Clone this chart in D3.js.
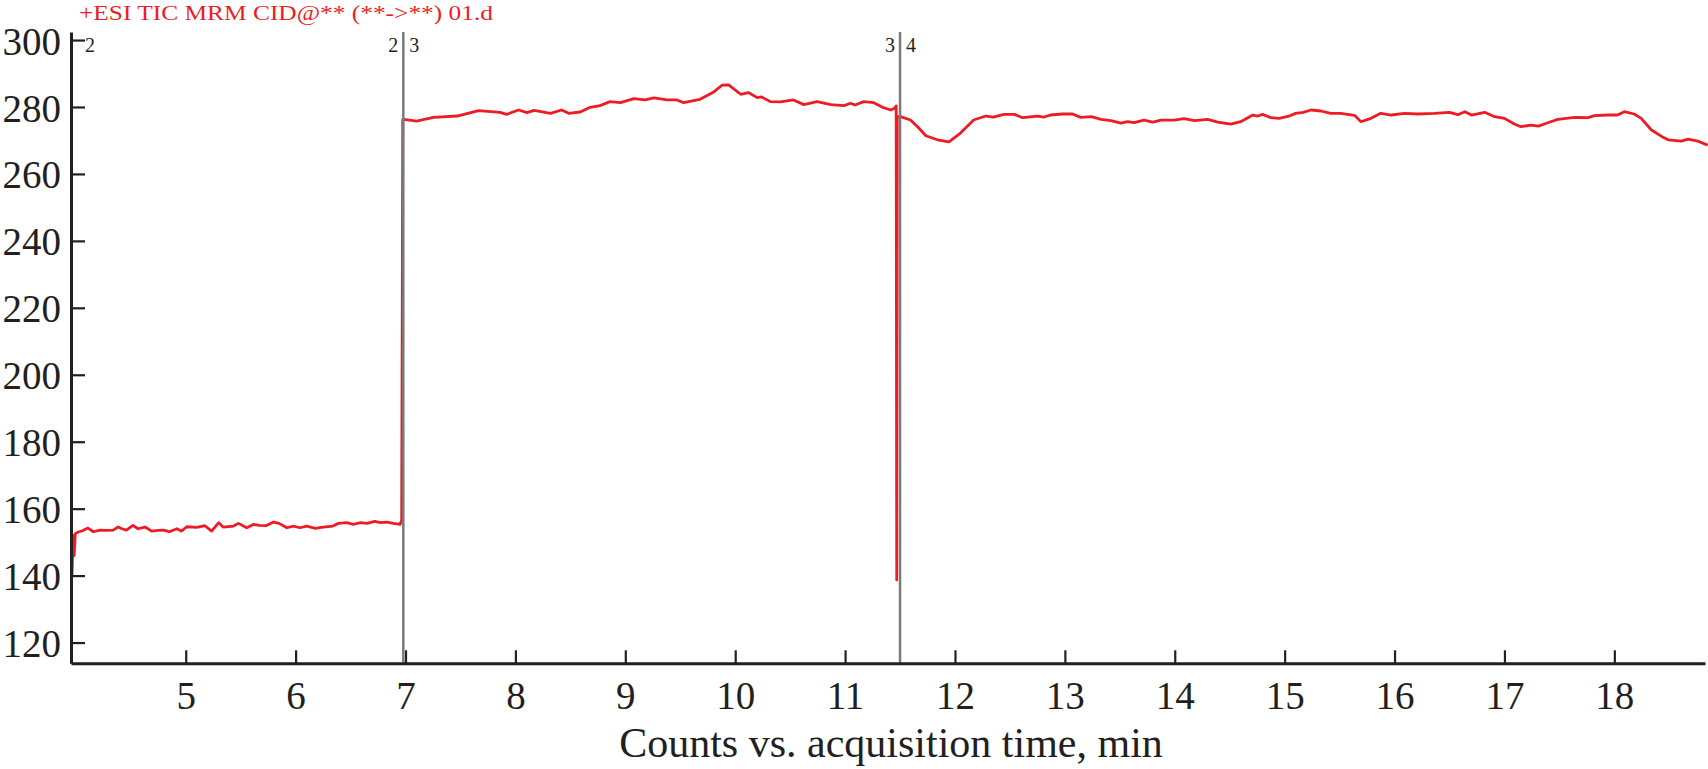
<!DOCTYPE html>
<html>
<head>
<meta charset="utf-8">
<script src="https://cdn.jsdelivr.net/npm/d3@7"></script>
<style>
  html, body { margin: 0; padding: 0; background: #fff; }
  svg { display: block; }
  text { font-family: "Liberation Serif", "DejaVu Serif", serif; }
</style>
</head>
<body>
<svg id="chart" width="1708" height="769"></svg>
<script>
// ---- data ----
const title = "+ESI TIC MRM CID@** (**->**) 01.d";
const xLabel = "Counts vs. acquisition time, min";
const xTicks = [5, 6, 7, 8, 9, 10, 11, 12, 13, 14, 15, 16, 17, 18];
const yTicks = [120, 140, 160, 180, 200, 220, 240, 260, 280, 300];
const xDomain = [3.956, 18.825];
const yDomain = [113.8, 302.4];
const segmentBounds = [6.98, 11.5];
const segmentLabelsLeft = ["2", "3"];
const segmentLabelsRight = ["3", "4"];
const firstSegmentLabel = "2";

const times = [
  3.965, 3.975, 3.985, 3.995, 4.02, 4.06, 4.11, 4.16, 4.22, 4.28, 4.34, 4.385, 4.42, 4.46, 4.52,
  4.565, 4.63, 4.69, 4.75, 4.80, 4.85, 4.92, 4.96, 5.01, 5.10, 5.175, 5.235, 5.30, 5.34, 5.435,
  5.48, 5.555, 5.615, 5.67, 5.73, 5.80, 5.85, 5.92, 5.98, 6.04, 6.10, 6.18, 6.25, 6.34, 6.39,
  6.465, 6.525, 6.59, 6.65, 6.72, 6.77, 6.83, 6.89, 6.95, 6.965, 6.975,
  6.985, 7.10, 7.255, 7.47, 7.665, 7.86, 7.92, 8.03, 8.105, 8.17, 8.32, 8.42, 8.485, 8.59,
  8.68, 8.77, 8.86, 8.955, 9.08, 9.18, 9.26, 9.38, 9.47, 9.53, 9.68, 9.805, 9.88, 9.94,
  10.05, 10.12, 10.20, 10.24, 10.32, 10.41, 10.53, 10.625, 10.745, 10.87, 10.99, 11.05, 11.09,
  11.17, 11.26, 11.35, 11.415, 11.45, 11.465, 11.47, 11.475,
  11.505, 11.595, 11.66, 11.735, 11.84, 11.945, 12.05, 12.17, 12.28, 12.35, 12.445, 12.54,
  12.615, 12.75, 12.81, 12.87, 12.98, 13.07, 13.145, 13.24, 13.33, 13.42, 13.51, 13.57, 13.63,
  13.72, 13.80, 13.875, 13.995, 14.085, 14.18, 14.30, 14.39, 14.51, 14.60, 14.71, 14.755, 14.80,
  14.875, 14.95, 15.04, 15.10, 15.17, 15.24, 15.33, 15.42, 15.51, 15.635, 15.695, 15.785, 15.875,
  15.97, 16.09, 16.21, 16.36, 16.50, 16.575, 16.64, 16.70, 16.82, 16.91, 17.0, 17.09, 17.15,
  17.24, 17.31, 17.395, 17.485, 17.64, 17.76, 17.82, 17.94, 18.03, 18.09, 18.18, 18.245, 18.335,
  18.43, 18.49, 18.61, 18.67, 18.76, 18.85
];
const counts = [
  140, 152, 146, 152.5, 153, 153.4, 154.2, 153.1, 153.6, 153.5, 153.6, 154.5, 154, 153.6, 155,
  154, 154.5, 153.3, 153.5, 153.6, 153.1, 154, 153.3, 154.6, 154.4, 154.9, 153.3, 155.8, 154.5, 154.8,
  155.6, 154.3, 155.3, 155, 154.9, 156, 155.6, 154.3, 154.8, 154.3, 154.8, 154.1, 154.5, 154.8, 155.6,
  155.8, 155.3, 155.8, 155.6, 156.2, 155.8, 156, 155.6, 155.3, 156.5, 276.3,
  276.3, 275.8, 276.9, 277.3, 278.9, 278.4, 277.8, 279.1, 278.3, 279, 278.1, 279.1, 278.1, 278.5,
  279.9, 280.4, 281.6, 281.3, 282.5, 282.1, 282.7, 282.1, 282.1, 281.3, 282.3, 284.5, 286.5, 286.6,
  283.8, 284.3, 282.8, 283, 281.6, 281.5, 282.1, 280.7, 281.6, 280.7, 280.4, 281.1, 280.6,
  281.6, 281.3, 279.8, 279.1, 279.6, 280.3, 138.7, 277.2,
  277.1, 276.1, 274.1, 271.4, 270.2, 269.6, 272.2, 276.1, 277.3, 277, 277.8, 277.8,
  276.8, 277.3, 277, 277.6, 277.9, 277.9, 276.9, 277.1, 276.3, 275.9, 275.2, 275.6, 275.3,
  276.1, 275.5, 276.1, 276.1, 276.5, 275.9, 276.3, 275.5, 274.9, 275.6, 277.6, 277.3, 277.8,
  276.8, 276.6, 277.3, 278.1, 278.4, 279.1, 278.8, 278.1, 278.1, 277.5, 275.6, 276.6, 278.1,
  277.6, 278.1, 277.9, 278.1, 278.4, 277.7, 278.6, 277.6, 278.4, 277.1, 276.6, 274.9, 274.1,
  274.6, 274.3, 275.3, 276.3, 276.9, 276.8, 277.4, 277.6, 277.6, 278.6, 277.9, 276.6, 273.2,
  271.2, 270.2, 269.8, 270.4, 269.8, 268.6
];

// ---- layout ----
const W = 1708, H = 769;
const margin = { left: 71, right: 3, top: 32, bottom: 105.7 };
const svg = d3.select("#chart");

const x = d3.scaleLinear().domain(xDomain).range([margin.left, W - margin.right]);
const y = d3.scaleLinear().domain(yDomain).range([H - margin.bottom, margin.top]);

const ink = "#231f20";

// title
svg.append("text")
  .attr("x", 79).attr("y", 20)
  .attr("font-size", 22)
  .attr("textLength", 414).attr("lengthAdjust", "spacingAndGlyphs")
  .attr("fill", "#ed1c24")
  .text(title);

// data line
const pts = times.map((t, i) => [t, counts[i]]);
svg.append("path")
  .datum(pts)
  .attr("fill", "none")
  .attr("stroke", "#ed1c24")
  .attr("stroke-width", 2.8)
  .attr("stroke-linejoin", "round")
  .attr("d", d3.line().x(d => x(d[0])).y(d => y(d[1])));

// separator lines
svg.append("g").selectAll("line")
  .data(segmentBounds)
  .join("line")
  .attr("x1", d => x(d)).attr("x2", d => x(d))
  .attr("y1", y(yDomain[1])).attr("y2", y(yDomain[0]))
  .attr("stroke", "#7a7a7a").attr("stroke-width", 2.5);

// segment labels
svg.append("text")
  .attr("x", x(xDomain[0]) + 14).attr("y", 52)
  .attr("font-size", 20).attr("fill", ink)
  .text(firstSegmentLabel);
svg.append("g").selectAll("text")
  .data(segmentBounds)
  .join("text")
  .attr("x", d => x(d) - 5).attr("y", 52)
  .attr("text-anchor", "end")
  .attr("font-size", 20).attr("fill", ink)
  .text((d, i) => segmentLabelsLeft[i]);
svg.append("g").selectAll("text")
  .data(segmentBounds)
  .join("text")
  .attr("x", d => x(d) + 6).attr("y", 52)
  .attr("font-size", 20).attr("fill", ink)
  .text((d, i) => segmentLabelsRight[i]);

// y axis
const yAxis = svg.append("g")
  .attr("transform", `translate(${margin.left},0)`)
  .call(d3.axisLeft(y).tickValues(yTicks).tickSizeInner(-14).tickSizeOuter(0).tickPadding(10).tickFormat(d3.format("d")));
yAxis.select(".domain").attr("stroke", ink).attr("stroke-width", 3);
yAxis.selectAll(".tick line").attr("stroke", ink).attr("stroke-width", 2.2);
yAxis.selectAll(".tick text")
  .attr("font-size", 39).attr("fill", ink)
  .attr("font-family", "Liberation Serif").attr("dy", "0.36em");

// x axis
const xAxis = svg.append("g")
  .attr("transform", `translate(0,${H - margin.bottom})`)
  .call(d3.axisBottom(x).tickValues(xTicks).tickSizeInner(-13).tickSizeOuter(0).tickPadding(18).tickFormat(d3.format("d")));
xAxis.select(".domain").attr("stroke", ink).attr("stroke-width", 3);
xAxis.selectAll(".tick line").attr("stroke", ink).attr("stroke-width", 2.2);
xAxis.selectAll(".tick text")
  .attr("font-size", 39).attr("fill", ink)
  .attr("font-family", "Liberation Serif");

// x axis title
svg.append("text")
  .attr("x", 891).attr("y", 757)
  .attr("text-anchor", "middle")
  .attr("font-size", 42).attr("fill", ink)
  .text(xLabel);
</script>
</body>
</html>
